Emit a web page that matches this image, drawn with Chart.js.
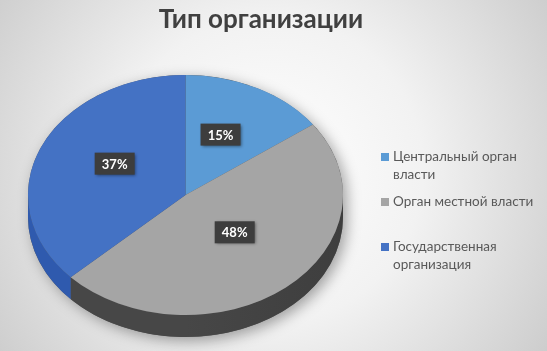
<!DOCTYPE html>
<html>
<head>
<meta charset="utf-8">
<script src="https://cdn.jsdelivr.net/npm/chart.js@4"></script>
<style>
  html, body { margin: 0; padding: 0; background: #e6e6e6; }
  canvas { display: block; }
</style>
</head>
<body>
<canvas id="c" width="547" height="351"></canvas>
<script>
const categories = ["Центральный орган власти", "Орган местной власти", "Государственная организация"];
const values = [15, 48, 37];
const sliceColors = ["#5B9BD5", "#A5A5A5", "#4472C4"];
const sideColors = ["#3F78B0", "#474747", "#2F5AAE"];
const titleText = "Тип организации";

// Geometry of the tilted pie (screen)
const PIE = { cx: 185.5, cy: 195, rx: 157.5, ry: 120, depth: 22 };
const FONT = "Lato, 'Noto Sans', 'DejaVu Sans', sans-serif";

const bgPlugin = {
  id: 'bg',
  beforeDraw(chart) {
    const ctx = chart.ctx, w = chart.width, h = chart.height;
    ctx.save();
    const g = ctx.createRadialGradient(270, 170, 0, 270, 170, 340);
    g.addColorStop(0, '#ffffff');
    g.addColorStop(0.45, '#f2f2f2');
    g.addColorStop(1, '#cbcbcb');
    ctx.fillStyle = g;
    ctx.fillRect(0, 0, w, h);
    ctx.restore();
  }
};

const pie3d = {
  id: 'pie3d',
  beforeDatasetsDraw(chart) {
    const ctx = chart.ctx;
    const meta = chart.getDatasetMeta(0);
    const {cx, cy, rx, ry, depth} = PIE;
    // soft shadow of whole disc
    ctx.save();
    ctx.shadowColor = 'rgba(0,0,0,0.35)';
    ctx.shadowBlur = 14;
    ctx.shadowOffsetX = 4;
    ctx.shadowOffsetY = 4;
    ctx.fillStyle = '#555';
    ctx.beginPath();
    ctx.ellipse(cx, cy, rx, ry, 0, Math.PI, 2 * Math.PI);
    ctx.ellipse(cx, cy + depth, rx, ry, 0, 0, Math.PI);
    ctx.closePath();
    ctx.fill();
    ctx.restore();
    // sides of each visible slice
    meta.data.forEach((arc, i) => {
      let a1 = arc.startAngle, a2 = arc.endAngle;
      const norm = a => { while (a < 0) a += 2 * Math.PI; while (a >= 2 * Math.PI) a -= 2 * Math.PI; return a; };
      let s = norm(a1), e = s + (a2 - a1);
      const ranges = [[s, e], [s - 2 * Math.PI, e - 2 * Math.PI], [s + 2 * Math.PI, e + 2 * Math.PI]];
      ranges.forEach(([r1, r2]) => {
        const lo = Math.max(r1, 0), hi = Math.min(r2, Math.PI);
        if (hi <= lo) return;
        ctx.save();
        const g = ctx.createLinearGradient(cx - rx, 0, cx + rx, 0);
        g.addColorStop(0, sideColors[i]);
        g.addColorStop(0.5, sideColors[i]);
        g.addColorStop(1, shade(sideColors[i], -0.12));
        ctx.fillStyle = g;
        ctx.beginPath();
        ctx.ellipse(cx, cy, rx, ry, 0, lo, hi);
        ctx.ellipse(cx, cy + depth, rx, ry, 0, hi, lo, true);
        ctx.closePath();
        ctx.fill();
        ctx.restore();
      });
    });
    // tilt transform for the top face
    const a0 = meta.data[0];
    const R = a0.outerRadius;
    ctx.save();
    ctx.translate(cx, cy);
    ctx.scale(rx / R, ry / R);
    ctx.translate(-a0.x, -a0.y);
  },
  afterDatasetsDraw(chart) {
    const ctx = chart.ctx;
    ctx.restore();
    const meta = chart.getDatasetMeta(0);
    const total = values.reduce((a, b) => a + b, 0);
    const {cx, cy, rx, ry} = PIE;
    meta.data.forEach((arc, i) => {
      const mid = (arc.startAngle + arc.endAngle) / 2;
      const f = 0.49;
      const x = cx + rx * f * Math.cos(mid);
      const y = cy + ry * f * Math.sin(mid) - 8;
      const txt = Math.round(values[i] / total * 100) + '%';
      ctx.save();
      ctx.font = "bold 13px " + FONT;
      const w = 40, h = 22;
      ctx.shadowColor = 'rgba(0,0,0,0.45)';
      ctx.shadowBlur = 3;
      ctx.shadowOffsetX = 1;
      ctx.shadowOffsetY = 1;
      ctx.fillStyle = '#3d3d3d';
      ctx.fillRect(x - w / 2, y - h / 2, w, h);
      ctx.shadowColor = 'transparent';
      ctx.fillStyle = '#ffffff';
      ctx.textAlign = 'center';
      ctx.textBaseline = 'middle';
      ctx.fillText(txt, x, y + 1);
      ctx.restore();
    });
  }
};

function shade(hex, p) {
  const n = parseInt(hex.slice(1), 16);
  let r = n >> 16, g = (n >> 8) & 255, b = n & 255;
  const t = p < 0 ? 0 : 255, q = Math.abs(p);
  r = Math.round((t - r) * q + r); g = Math.round((t - g) * q + g); b = Math.round((t - b) * q + b);
  return 'rgb(' + r + ',' + g + ',' + b + ')';
}

const legendPlugin = {
  id: 'customLegend',
  afterDraw(chart) {
    const ctx = chart.ctx;
    const itemTops = [157, 202, 247];
    const lineH = 18, x0 = 381, tx = 393, maxW = 150;
    ctx.save();
    ctx.font = "13.5px " + FONT;
    ctx.textBaseline = 'middle';
    ctx.textAlign = 'left';
    chart.data.labels.forEach((lab, i) => {
      const words = lab.split(' ');
      const lines = [];
      let cur = '';
      words.forEach(wd => {
        const t = cur ? cur + ' ' + wd : wd;
        if (ctx.measureText(t).width > maxW && cur) { lines.push(cur); cur = wd; }
        else cur = t;
      });
      lines.push(cur);
      const y = itemTops[i];
      ctx.fillStyle = chart.data.datasets[0].backgroundColor[i];
      ctx.fillRect(x0, y - 4, 8, 8);
      ctx.fillStyle = '#595959';
      lines.forEach((ln, k) => ctx.fillText(ln, tx, y + k * lineH));
    });
    ctx.restore();
  }
};

new Chart(document.getElementById('c'), {
  type: 'pie',
  data: {
    labels: categories,
    datasets: [{
      data: values,
      backgroundColor: sliceColors,
      borderWidth: 0
    }]
  },
  options: {
    responsive: false,
    animation: false,
    layout: { padding: { left: 0, right: 25, top: 0, bottom: 10 } },
    plugins: {
      legend: { display: false },
      tooltip: { enabled: false },
      title: {
        display: true,
        text: titleText,
        color: '#404040',
        font: { family: FONT, size: 26, weight: 'bold' },
        padding: { top: 4, bottom: 10 }
      }
    }
  },
  plugins: [bgPlugin, pie3d, legendPlugin]
});
</script>
</body>
</html>
